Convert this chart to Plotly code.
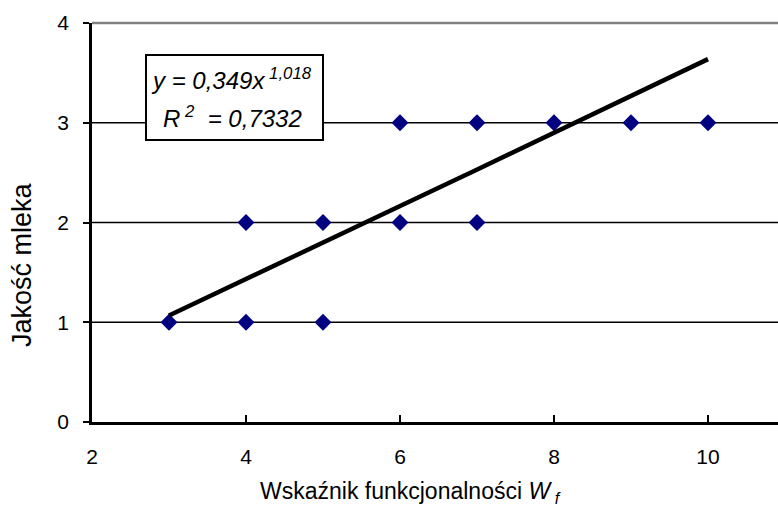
import numpy as np
import plotly.graph_objects as go

# Data
wf = [3, 4, 5, 4, 5, 6, 7, 6, 7, 8, 9, 10]
jakosc = [1, 1, 1, 2, 2, 2, 2, 3, 3, 3, 3, 3]
coef_a = 0.349
coef_b = 1.018
r2_text = "0,7332"
x_ticks = [2, 4, 6, 8, 10]
y_ticks = [0, 1, 2, 3, 4]
grid_vals = [1, 2, 3]

FONT = "Liberation Sans, Arial, sans-serif"

# Plot geometry in pixels
W, H = 778, 508
L, R, T, B = 92, 0, 23, 86
PW, PH = W - L - R, H - T - B
xmin = 2
xmax = 2 + PW / 77.0


def px_x(p):
    return (p - L) / PW


def px_y(p):
    return (H - B - p) / PH


trend_x = np.linspace(min(wf), max(wf), 60)
trend_y = coef_a * trend_x ** coef_b

fig = go.Figure()
fig.add_trace(go.Scatter(
    x=wf, y=jakosc, mode="markers",
    marker=dict(symbol="diamond", size=13, color="#000080", line=dict(width=0)),
    showlegend=False, hoverinfo="x+y",
))
fig.add_trace(go.Scatter(
    x=trend_x, y=trend_y, mode="lines",
    line=dict(color="black", width=4.5),
    showlegend=False, hoverinfo="skip",
))

shapes = []
for g in grid_vals:
    shapes.append(dict(type="line", xref="paper", yref="y", x0=0, x1=1, y0=g, y1=g,
                       line=dict(color="black", width=1.5), layer="below"))
# top border line (gray)
shapes.append(dict(type="line", xref="paper", yref="paper", x0=0, x1=1, y0=1, y1=1,
                   line=dict(color="#808080", width=2.5), layer="below"))
# equation box
shapes.append(dict(type="rect", xref="paper", yref="paper",
                   x0=px_x(146), x1=px_x(323), y0=px_y(140), y1=px_y(55),
                   fillcolor="white", line=dict(color="black", width=2), layer="below"))

annotations = [
    dict(xref="paper", yref="paper", x=px_x(231), y=px_y(79),
         text=f"<i>y = {str(coef_a).replace('.', ',')}x</i><sup><i> {str(coef_b).replace('.', ',')}</i></sup>",
         showarrow=False, xanchor="center", yanchor="middle",
         font=dict(family=FONT, size=24, color="black")),
    dict(xref="paper", yref="paper", x=px_x(232), y=px_y(117),
         text=f"<i>R</i><sup><i> 2</i></sup><i>  = {r2_text}</i>",
         showarrow=False, xanchor="center", yanchor="middle",
         font=dict(family=FONT, size=24, color="black")),
    dict(xref="paper", yref="paper", x=px_x(410), y=px_y(492),
         text="Wskaźnik funkcjonalności <i>W</i><sub><i> f</i></sub>",
         showarrow=False, xanchor="center", yanchor="middle",
         font=dict(family=FONT, size=23, color="black")),
    dict(xref="paper", yref="paper", x=px_x(22), y=px_y(265),
         text="Jakość mleka", textangle=-90,
         showarrow=False, xanchor="center", yanchor="middle",
         font=dict(family=FONT, size=27, color="black")),
]

fig.update_layout(
    width=W, height=H,
    margin=dict(l=L, r=R, t=T, b=B, pad=0),
    paper_bgcolor="white", plot_bgcolor="white",
    font=dict(family=FONT, size=21, color="black"),
    shapes=shapes, annotations=annotations,
    showlegend=False,
    xaxis=dict(range=[xmin, xmax], tickmode="array", tickvals=x_ticks,
               ticktext=[str(v) for v in x_ticks],
               ticks="inside", ticklen=7, tickwidth=2, tickcolor="black",
               showline=True, linecolor="black", linewidth=2.5,
               showgrid=False, zeroline=False, ticklabelstandoff=14,
               tickfont=dict(family=FONT, size=21, color="black")),
    yaxis=dict(range=[0, 4], tickmode="array", tickvals=y_ticks,
               ticktext=[str(v) for v in y_ticks],
               ticks="outside", ticklen=6, tickwidth=2, tickcolor="black",
               showline=True, linecolor="black", linewidth=2.5,
               showgrid=False, zeroline=False, ticklabelstandoff=10,
               tickfont=dict(family=FONT, size=21, color="black")),
)

fig.write_html("out.html")
